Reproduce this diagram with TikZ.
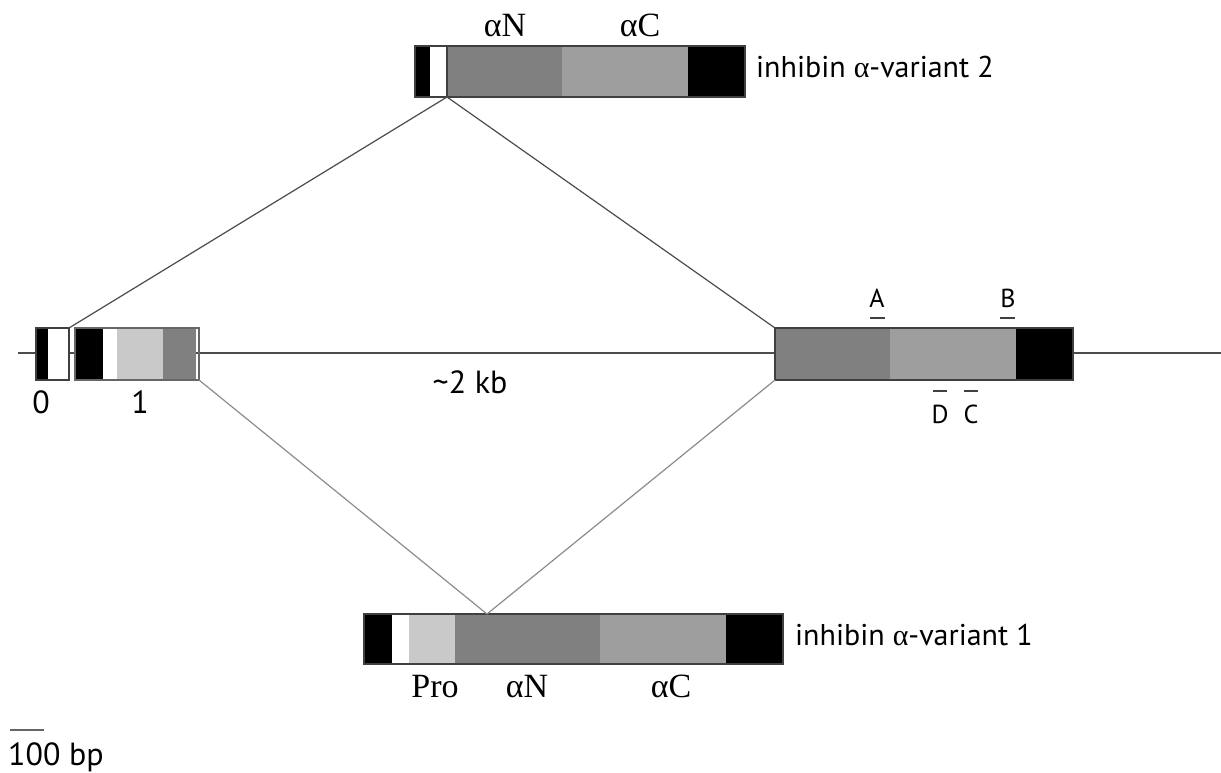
\documentclass[tikz,border=0pt]{standalone}
\usepackage{fontspec}
\setmainfont{Liberation Serif}
\newfontfamily\sansf{PT Sans}
\usetikzlibrary{fit}
\definecolor{dg}{gray}{0.5}
\definecolor{lg}{gray}{0.62}
\definecolor{pg}{gray}{0.79}
\begin{document}
\begin{tikzpicture}[x=1pt,y=-1pt,
  seg/.style={inner sep=0pt, outer sep=0pt, draw=none},
  frame/.style={inner sep=0pt, outer sep=0pt, draw=black!75, line width=1.2pt},
  gline/.style={draw=black!70, line width=1.6pt},
  connA/.style={draw=black!70, line width=1.2pt},
  connB/.style={draw=black!45, line width=1.2pt},
  sl/.style={font=\sansf\fontsize{32}{36}\selectfont, inner sep=0pt, anchor=base},
  vl/.style={font=\sansf\fontsize{30}{34}\selectfont, inner sep=0pt, anchor=base west},
  sm/.style={font=\sansf\fontsize{26}{30}\selectfont, inner sep=0pt, anchor=base},
  rl/.style={font=\rmfamily\fontsize{34}{38}\selectfont, inner sep=0pt, anchor=base},
  bar/.style={draw=black!75, line width=1.6pt}]
\useasboundingbox (0,0) rectangle (1221,772);
\fill[white] (0,0) rectangle (1221,772);

% genomic line
\coordinate (gl) at (18,353);
\coordinate (gr) at (1221,353);
\draw[gline] (gl) -- (gr);

% exon 0
\fill[black] (36,328) rectangle (48,380);
\fill[white] (48,328) rectangle (69,380);
\node[frame, fit={(36,328) (69,380)}] (ex0) {};
% exon 1
\fill[black] (75,328) rectangle (103,380);
\fill[white] (103,328) rectangle (117,380);
\fill[pg] (117,328) rectangle (163,380);
\fill[dg] (163,328) rectangle (196,380);
\node[frame, draw=black!60, fit={(75,328) (199,380)}] (ex1) {};
% exon 2
\fill[dg] (775,328) rectangle (890,380);
\fill[lg] (890,328) rectangle (1016,380);
\fill[black] (1016,328) rectangle (1073,380);
\node[frame, fit={(775,328) (1073,380)}] (ex2) {};

% variant 2 transcript
\fill[black] (415,46) rectangle (430,97);
\node[seg, fill=white, fit={(430,46) (447,97)}] (v2w) {};
\fill[dg] (447,46) rectangle (562,97);
\fill[lg] (562,46) rectangle (688,97);
\fill[black] (688,46) rectangle (745,97);
\draw[black!75, line width=1.2pt] (447,46) -- (447,97);
\node[frame, fit={(415,46) (745,97)}] (v2) {};

% variant 1 transcript
\fill[black] (364,614) rectangle (392,664);
\fill[white] (392,614) rectangle (409,664);
\fill[pg] (409,614) rectangle (455,664);
\fill[dg] (455,614) rectangle (600,664);
\fill[lg] (600,614) rectangle (726,664);
\fill[black] (726,614) rectangle (783,664);
\node[frame, fit={(364,614) (783,664)}] (v1) {};
\coordinate (j1) at (487,614);

% connectors
\draw[connA] (v2w.south east) -- (ex0.north east);
\draw[connA] (v2w.south east) -- (ex2.north west);
\draw[connB] (ex1.south east) -- (j1);
\draw[connB] (ex2.south west) -- (j1);

% labels
\node[rl] (tn) at (505,36) {αN};
\node[rl] (tc) at (640,36) {αC};
\node[vl] (v2l) at (756,77) {inhibin {\rmfamily α}-variant 2};
\node[vl] (v1l) at (795,645) {inhibin {\rmfamily α}-variant 1};
\node[rl] (pro) at (435,697) {Pro};
\node[rl] (bn) at (527,697) {αN};
\node[rl] (bc) at (671,697) {αC};
\node[sl] (l0) at (41,413) {0};
\node[sl] (l1) at (140,413) {1};
\node[sl] (kb) at (470,393) {\char`\~2 kb};
\node[sm] (la) at (877,307) {A};
\node[sm] (lb) at (1008,307) {B};
\node[sm] (ld) at (940,423) {D};
\node[sm] (lc) at (971,423) {C};
\coordinate (a1) at (870,318); \coordinate (a2) at (885,318);
\coordinate (b1) at (1000,318); \coordinate (b2) at (1015,318);
\coordinate (d1) at (933,391); \coordinate (d2) at (947,391);
\coordinate (c1) at (964,391); \coordinate (c2) at (978,391);
\draw[bar] (a1) -- (a2);
\draw[bar] (b1) -- (b2);
\draw[bar] (d1) -- (d2);
\draw[bar] (c1) -- (c2);
% scale bar
\coordinate (s1) at (10,730); \coordinate (s2) at (44,730);
\draw[bar, draw=black!60] (s1) -- (s2);
\node[sl, anchor=base west] (sbl) at (8,765) {100 bp};
\end{tikzpicture}
\end{document}
